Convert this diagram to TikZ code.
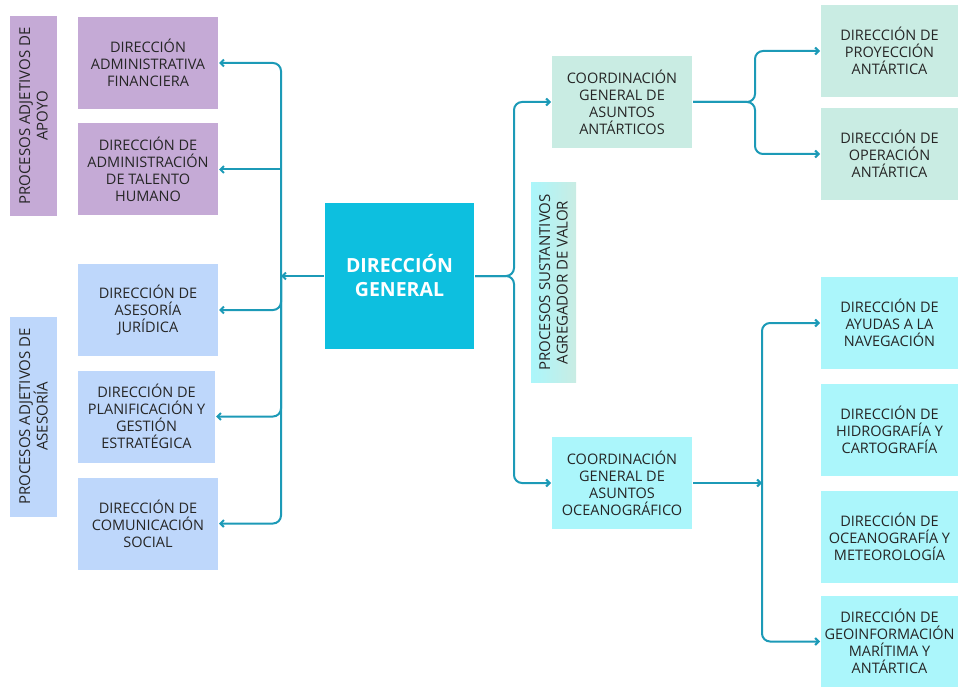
\documentclass[tikz,border=0pt]{standalone}
\usepackage{fontspec}
\setmainfont{Open Sans}
\usepackage{xcolor}
\usetikzlibrary{arrows.meta}
\definecolor{apoyoC}{HTML}{C5AAD6}
\definecolor{asesorC}{HTML}{BED7FB}
\definecolor{antarC}{HTML}{C9ECE3}
\definecolor{oceanC}{HTML}{ABF6FB}
\definecolor{generalC}{HTML}{0DBFDF}
\definecolor{lineC}{HTML}{1C9AB7}
\definecolor{textC}{HTML}{262626}
\tikzset{
every picture/.style={line width=2pt, >={Straight Barb[length=3.5pt,width=7pt]}},
%%%%%%%%%%  Node styles
box/.style={minimum width=140pt, minimum height=92pt, inner sep=0pt,
            align=center, text=textC, font=\fontsize{14.5}{17}\selectfont},
apoyo/.style={box, fill=apoyoC},
asesor/.style={box, fill=asesorC},
antar/.style={box, fill=antarC},
ocean/.style={box, fill=oceanC},
general/.style={box, fill=generalC, minimum width=149pt, minimum height=146pt,
                text=white, font=\fontsize{19.5}{24}\selectfont\bfseries},
%note that the group labels are rotated, so width is the long side
grouplabel/.style={box, rotate=90, minimum width=200pt, minimum height=47pt,
                   font=\fontsize{15}{17.5}\selectfont},
%%%% connector style
link/.style={draw=lineC, rounded corners=8pt},
}
\begin{document}
\begin{tikzpicture}[x=1pt,y=-1pt]
\useasboundingbox (0,0) rectangle (958,687);
%%left side, procesos adjetivos
\node[grouplabel, fill=apoyoC] (lapoyo) at (33.5,116) {PROCESOS ADJETIVOS DE\\APOYO};
\node[grouplabel, fill=asesorC] (lasesor) at (33.5,416.5) {PROCESOS ADJETIVOS DE\\ASESORÍA};
\node[apoyo] (fin) at (148,63) {DIRECCIÓN\\ADMINISTRATIVA\\FINANCIERA};
\node[apoyo] (tal) at (148,169.5) {DIRECCIÓN DE\\ADMINISTRACIÓN\\DE TALENTO\\HUMANO};
\node[asesor] (jur) at (148,310) {DIRECCIÓN DE\\ASESORÍA\\JURÍDICA};
\node[asesor, minimum width=137pt] (pla) at (146.5,416.5) {DIRECCIÓN DE\\PLANIFICACIÓN Y\\GESTIÓN\\ESTRATÉGICA};
\node[asesor] (com) at (148,523.5) {DIRECCIÓN DE\\COMUNICACIÓN\\SOCIAL};
%%direccion general
\node[general] (dg) at (399.5,276) {DIRECCIÓN\\GENERAL};
%%right side, procesos sustantivos
\node[grouplabel, minimum width=199pt, minimum height=45pt,
      left color=oceanC, right color=antarC] (lsust) at (553.5,282.5)
      {PROCESOS SUSTANTIVOS\\AGREGADOR DE VALOR};
\node[antar] (caa) at (622,102) {COORDINACIÓN\\GENERAL DE\\ASUNTOS\\ANTÁRTICOS};
\node[ocean] (cao) at (622,483) {COORDINACIÓN\\GENERAL DE\\ASUNTOS\\OCEANOGRÁFICO};
\node[antar, minimum width=137pt] (pro) at (889.5,51) {DIRECCIÓN DE\\PROYECCIÓN\\ANTÁRTICA};
\node[antar, minimum width=137pt] (ope) at (889.5,154) {DIRECCIÓN DE\\OPERACIÓN\\ANTÁRTICA};
\node[ocean, minimum width=137pt] (ayu) at (889.5,323) {DIRECCIÓN DE\\AYUDAS A LA\\NAVEGACIÓN};
\node[ocean, minimum width=137pt] (hid) at (889.5,429.5) {DIRECCIÓN DE\\HIDROGRAFÍA Y\\CARTOGRAFÍA};
\node[ocean, minimum width=137pt] (oce) at (889.5,536.5) {DIRECCIÓN DE\\OCEANOGRAFÍA Y\\METEOROLOGÍA};
\node[ocean, minimum width=137pt] (geo) at (889.5,641.5) {DIRECCIÓN DE\\GEOINFORMACIÓN\\MARÍTIMA Y\\ANTÁRTICA};
%%branch points
\coordinate (lbar) at (281,276);
\coordinate (rsplit) at (514,276);
\coordinate (asplit) at (755,102);
\coordinate (obar) at (762,483);
%%left tree
\draw[link,->] (dg.west) -- (lbar);
\draw[link,->] (lbar) |- (fin.east);
\draw[link,->] (tal.east -| lbar) -- (tal.east);
\draw[link,->] (lbar) |- (jur.east);
\draw[link,->] (lbar) |- (pla.east);
\draw[link,->] (lbar) |- (com.east);
%%right tree
\draw[link,->] (dg.east) -- (rsplit) |- (caa.west);
\draw[link,->] (dg.east) -- (rsplit) |- (cao.west);
%%antarctic branch
\draw[link,->] (caa.east) -- (asplit) |- (pro.west);
\draw[link,->] (caa.east) -- (asplit) |- (ope.west);
%%oceanographic branch
\draw[link,->] (cao.east) -- (obar);
\draw[link,->] (obar) |- (ayu.west);
\draw[link,->] (obar) |- (geo.west);
\end{tikzpicture}
\end{document}
